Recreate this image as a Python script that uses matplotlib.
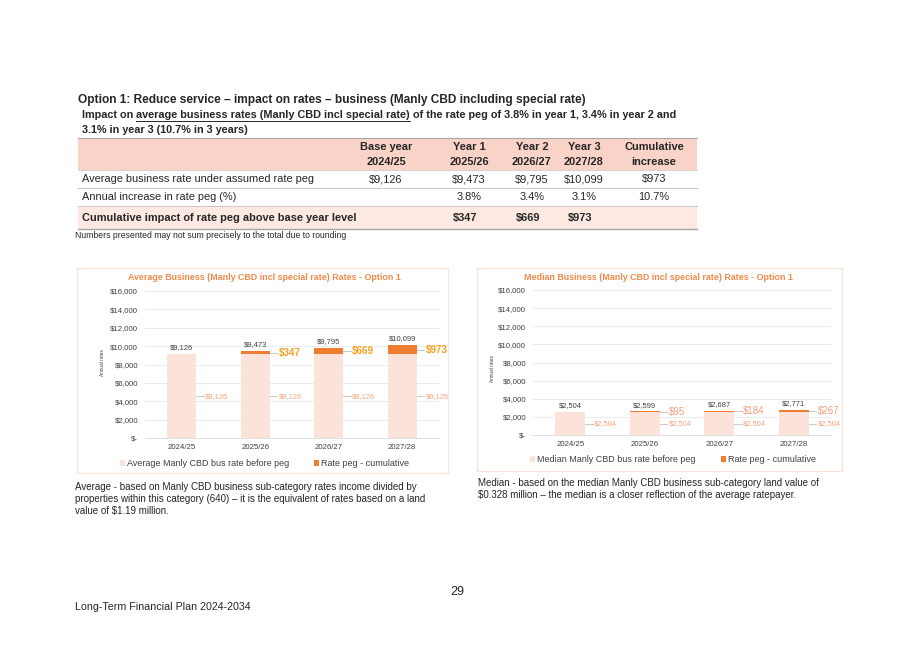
import matplotlib
matplotlib.use('Agg')
import matplotlib.pyplot as plt
import numpy as np
from matplotlib.patches import Rectangle
from matplotlib.lines import Line2D
from matplotlib.ticker import FuncFormatter

plt.rcParams['font.family'] = ['Liberation Sans', 'DejaVu Sans']

W, H = 915, 647

# ---- data ----
years = ['2024/25', '2025/26', '2026/27', '2027/28']
avg_base = [9126, 9126, 9126, 9126]
avg_peg = [0, 347, 669, 973]
avg_total = [9126, 9473, 9795, 10099]
med_base = [2504, 2504, 2504, 2504]
med_peg = [0, 95, 184, 267]
med_total = [2504, 2599, 2687, 2771]

head_top = ['Base year', 'Year 1', 'Year 2', 'Year 3', 'Cumulative']
head_bot = ['2024/25', '2025/26', '2026/27', '2027/28', 'increase']
row_labels = ['Average business rate under assumed rate peg',
              'Annual increase in rate peg (%)',
              'Cumulative impact of rate peg above base year level']
row_avg = ['$9,126', '$9,473', '$9,795', '$10,099', '$973']
row_pct = ['', '3.8%', '3.4%', '3.1%', '10.7%']
row_cum = ['', '$347', '$669', '$973', '']

PINK = '#FCE3DA'
ORANGE = '#ED7D31'
DARK = '#262626'
GREY = '#404040'
TFS = 7.9  # table font size

fig = plt.figure(figsize=(W / 100, H / 100), dpi=100)


def fx(x):
    return x / W


def fy(y):
    return 1 - y / H


def ftext(x, y, s, **kw):
    kw.setdefault('va', 'center')
    kw.setdefault('color', DARK)
    return fig.text(fx(x), fy(y), s, **kw)


def frect(x0, y0, x1, y1, **kw):
    fig.patches.append(Rectangle((fx(x0), fy(y1)), fx(x1) - fx(x0), fy(y0) - fy(y1),
                                 transform=fig.transFigure, **kw))


def fline(x0, y0, x1, y1, **kw):
    fig.lines.append(Line2D([fx(x0), fx(x1)], [fy(y0), fy(y1)],
                            transform=fig.transFigure, **kw))


# ---- heading ----
ftext(78, 100, 'Option 1: Reduce service \u2013 impact on rates \u2013 business '
      '(Manly CBD including special rate)', fontsize=8.6, fontweight='bold')

fig.canvas.draw()
rend = fig.canvas.get_renderer()
parts = ['Impact on ', 'average business rates (Manly CBD incl special rate)',
         ' of the rate peg of 3.8% in year 1, 3.4% in year 2 and']
xc = 82
for k, p in enumerate(parts):
    t = ftext(xc, 115, p, fontsize=7.8, fontweight='bold')
    wpx = t.get_window_extent(rend).width
    if k == 1:
        fline(xc, 121, xc + wpx, 121, color=DARK, lw=0.7)
    xc += wpx
ftext(82, 130, '3.1% in year 3 (10.7% in 3 years)', fontsize=7.8, fontweight='bold')

# ---- table ----
tx0, tx1 = 78, 697
frect(tx0, 138, tx1, 170, facecolor='#FAD3C8', edgecolor='none')
frect(tx0, 207, tx1, 229, facecolor='#FDE9E2', edgecolor='none')
fline(tx0, 138, tx1, 138, color='#A6A6A6', lw=0.8)
fline(tx0, 170, tx1, 170, color='#BFBFBF', lw=0.5)
fline(tx0, 188, tx1, 188, color='#BFBFBF', lw=0.6)
fline(tx0, 206.5, tx1, 206.5, color='#BFBFBF', lw=0.6)
fline(tx0, 229, tx1, 229, color='#A6A6A6', lw=1.0)

col_x = [386, 469, 532, 584, 654]
for cx, a, b in zip(col_x, head_top, head_bot):
    ftext(cx, 147, a, fontsize=TFS, fontweight='bold', ha='center')
    ftext(cx, 162, b, fontsize=TFS, fontweight='bold', ha='center')

ftext(82, 179, row_labels[0], fontsize=TFS)
ftext(82, 197, row_labels[1], fontsize=TFS)
ftext(82, 218, row_labels[2], fontsize=TFS, fontweight='bold')
for cx, a, b, c in zip(col_x, row_avg, row_pct, row_cum):
    ftext(cx, 179, a, fontsize=TFS, ha='center')
    ftext(cx, 197, b, fontsize=TFS, ha='center')
    ftext(cx - 4, 218, c, fontsize=TFS, ha='center', fontweight='bold')

ftext(75, 236, 'Numbers presented may not sum precisely to the total due to rounding',
      fontsize=6.2)


# ---- charts ----
def money(v, pos=None):
    return '$-' if v == 0 else '${:,.0f}'.format(v)


def draw_chart(rect_px, box_px, title, title_xy, base, peg, total, peg_color, peg_bold,
               legend_px, legend_labels, ylab_xy):
    bx0, by0, bx1, by1 = box_px
    frect(bx0, by0, bx1, by1, facecolor='none', edgecolor='#FBE2D8', lw=0.9)
    x0, y0, x1, y1 = rect_px
    ax = fig.add_axes([fx(x0), fy(y1), fx(x1) - fx(x0), fy(y0) - fy(y1)])
    x = np.arange(len(years))
    w = 0.4
    base = np.array(base)
    peg = np.array(peg)
    ax.bar(x, base, w, color=PINK, zorder=2)
    ax.bar(x, peg, w, bottom=base, color=ORANGE, zorder=2)
    ax.set_xlim(-0.5, len(years) - 0.5)
    ax.set_ylim(0, 16000)
    ax.set_yticks(np.arange(0, 16001, 2000))
    ax.yaxis.set_major_formatter(FuncFormatter(money))
    ax.set_xticks(x)
    ax.set_xticklabels(years)
    ax.tick_params(length=0, labelsize=5.6, labelcolor=GREY)
    ax.tick_params(axis='y', pad=5.0)
    ax.tick_params(axis='x', pad=4)
    ax.grid(axis='y', color='#E8E8E8', lw=0.6, zorder=0)
    for s in ['top', 'right', 'left']:
        ax.spines[s].set_visible(False)
    ax.spines['bottom'].set_color('#D9D9D9')
    ax.spines['bottom'].set_linewidth(0.6)
    ax.set_facecolor('none')

    for i in x:
        ax.annotate(money(total[i]), (i, base[i] + peg[i]), xytext=(0, 2),
                    textcoords='offset points', ha='center', va='bottom',
                    fontsize=5.4, color=GREY)
        edge = i + w / 2
        yb = base[i] / 2
        ax.plot([edge, edge + 0.1], [yb, yb], color='#BFBFBF', lw=0.6, zorder=3)
        ax.text(edge + 0.12, yb, money(base[i]), fontsize=5.4, color='#F4A47C',
                va='center', ha='left')
        if peg[i] > 0:
            yp = base[i] + peg[i] / 2
            ax.plot([edge, edge + 0.1], [yp, yp], color='#BFBFBF', lw=0.6, zorder=3)
            ax.text(edge + 0.12, yp, money(peg[i]), fontsize=7.0, color=peg_color,
                    va='center', ha='left',
                    fontweight='bold' if peg_bold else 'normal', clip_on=False)

    ftext(title_xy[0], title_xy[1], title, fontsize=6.4, fontweight='bold',
          color='#F08A4B', ha='center')
    ftext(ylab_xy[0], ylab_xy[1], 'Annual rates', fontsize=3.4, color=GREY,
          rotation=90, ha='center')

    (sx0, sx1, ly) = legend_px
    for sx, lab, col in zip((sx0, sx1), legend_labels, (PINK, ORANGE)):
        frect(sx, ly - 2.5, sx + 5, ly + 2.5, facecolor=col, edgecolor='none')
        ftext(sx + 7, ly, lab, fontsize=6.5, color=GREY)
    return ax


draw_chart((145, 291, 439, 438), (77, 268, 448, 473),
           'Average Business (Manly CBD incl special rate) Rates - Option 1', (264, 277),
           avg_base, avg_peg, avg_total, '#F7A01E', True,
           (120, 314, 463),
           ['Average Manly CBD bus rate before peg', 'Rate peg - cumulative'],
           (103, 363))

draw_chart((533, 290, 831, 435), (477, 268, 842, 471),
           'Median Business (Manly CBD incl special rate) Rates - Option 1', (658, 277),
           med_base, med_peg, med_total, '#F4A07C', False,
           (530, 721, 459),
           ['Median Manly CBD bus rate before peg', 'Rate peg - cumulative'],
           (492, 369))

# ---- captions ----
CFS = 7.05
ftext(75, 487, 'Average - based on Manly CBD business sub-category rates income divided by',
      fontsize=CFS)
ftext(75, 499, 'properties within this category (640) \u2013 it is the equivalent of rates based on a land',
      fontsize=CFS)
ftext(75, 511, 'value of $1.19 million.', fontsize=CFS)
ftext(478, 483, 'Median - based on the median Manly CBD business sub-category land value of',
      fontsize=CFS)
ftext(478, 495, '$0.328 million \u2013 the median is a closer reflection of the average ratepayer.',
      fontsize=CFS)

ftext(457, 592, '29', fontsize=9, ha='center')
ftext(75, 607, 'Long-Term Financial Plan 2024-2034', fontsize=7.7)

fig.savefig('out.png', dpi=100)
